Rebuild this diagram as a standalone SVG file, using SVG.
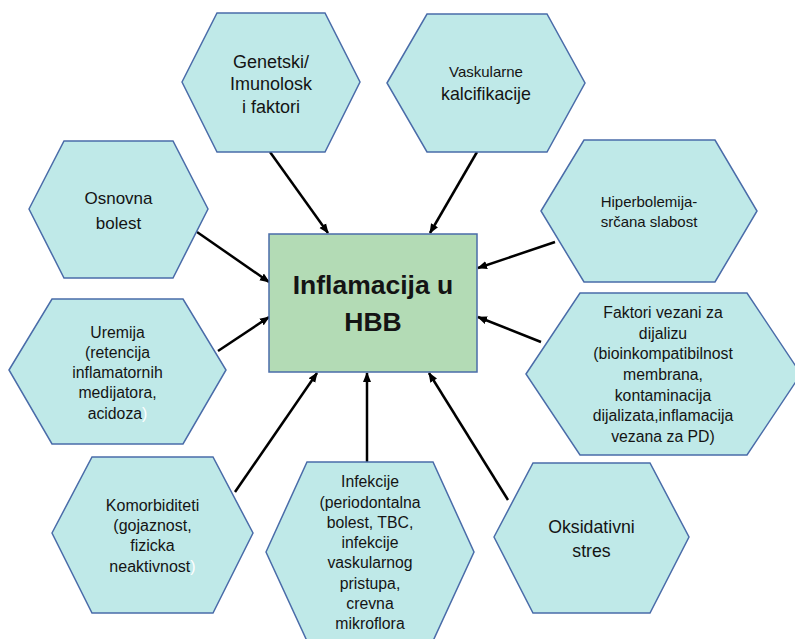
<svg xmlns="http://www.w3.org/2000/svg" width="795" height="639" viewBox="0 0 795 639">
<style>
.hex{fill:#bfe9e8;stroke:#4a6ca9;stroke-width:1.5}
.box{fill:#b3dbb5;stroke:#4a6ca9;stroke-width:1.5}
.t{font-family:"Liberation Sans",Arial,sans-serif;fill:#141414;text-anchor:middle}
.c{stroke:#000;stroke-width:2.5;fill:none;marker-end:url(#ah)}
</style>
<defs>
<marker id="ah" markerUnits="userSpaceOnUse" markerWidth="10" markerHeight="9" refX="9" refY="4" orient="auto" viewBox="0 0 10 8">
<path d="M0,0 L10,4 L0,8 z" fill="#000"/>
</marker>
</defs>
<rect width="795" height="639" fill="#fff"/>
<g id="connectors">
<line class="c" x1="270" y1="152" x2="328" y2="233"/>
<line class="c" x1="477" y1="152" x2="430" y2="233"/>
<line class="c" x1="197" y1="232" x2="269" y2="282"/>
<line class="c" x1="218" y1="351" x2="269" y2="317"/>
<line class="c" x1="555" y1="242" x2="478" y2="268"/>
<line class="c" x1="541" y1="342" x2="478" y2="317"/>
<line class="c" x1="235" y1="492" x2="317" y2="373"/>
<line class="c" x1="367" y1="462" x2="367" y2="373"/>
<line class="c" x1="508" y1="500" x2="429" y2="373"/>
</g>
<g id="center">
<rect class="box" x="269" y="234" width="208" height="138"/>
<text class="t" x="373" y="294" font-size="26.5" font-weight="bold">Inflamacija u</text>
<text class="t" x="373" y="331" font-size="26.5" font-weight="bold">HBB</text>
</g>
<g id="genetski">
<polygon class="hex" points="182,82 217,13 325,13 360,82 325,152 217,152"/>
<text class="t" font-size="18"><tspan x="271" y="67.5">Genetski/</tspan><tspan x="271" y="89.5">Imunolosk</tspan><tspan x="271" y="113">i faktori</tspan></text>
</g>
<g id="vaskularne">
<polygon class="hex" points="387,83 427,14 547,14 585,83 547,152 427,152"/>
<text class="t"><tspan x="486" y="77" font-size="15">Vaskularne</tspan><tspan x="486" y="100" font-size="17.8">kalcifikacije</tspan></text>
</g>
<g id="osnovna">
<polygon class="hex" points="29,209 64,141 173,141 208,209 173,278 64,278"/>
<text class="t" font-size="17"><tspan x="118.5" y="204">Osnovna</tspan><tspan x="118.5" y="229">bolest</tspan></text>
</g>
<g id="uremija">
<polygon class="hex" points="9,370 52,299 183,299 226,370 183,444 52,444"/>
<text class="t" font-size="15.8"><tspan x="117.5" y="337.5">Uremija</tspan><tspan x="117.5" y="357.7">(retencija</tspan><tspan x="117.5" y="378">inflamatornih</tspan><tspan x="117.5" y="398.2">medijatora,</tspan><tspan x="117.5" y="418.5">acidoza<tspan fill="#ffffff">)</tspan></tspan></text>
</g>
<g id="hiperbolemija">
<polygon class="hex" points="541,211 584,140 715,140 757,211 715,282 584,282"/>
<text class="t" font-size="15"><tspan x="649" y="206.5">Hiperbolemija-</tspan><tspan x="649" y="226.5">srčana slabost</tspan></text>
</g>
<g id="faktori">
<polygon class="hex" points="526,374 580,293 747,293 801,374 747,455 580,455"/>
<text class="t" font-size="15.8"><tspan x="663" y="318.3">Faktori vezani za</tspan><tspan x="663" y="338.9">dijalizu</tspan><tspan x="663" y="359.4">(bioinkompatibilnost</tspan><tspan x="663" y="380">membrana,</tspan><tspan x="663" y="400.6">kontaminacija</tspan><tspan x="663" y="421.1">dijalizata,inflamacija</tspan><tspan x="663" y="441.7">vezana za PD)</tspan></text>
</g>
<g id="komorbiditeti">
<polygon class="hex" points="52,533 92,457 213,457 253,533 213,613 92,613"/>
<text class="t" font-size="16"><tspan x="152.5" y="510.7">Komorbiditeti</tspan><tspan x="152.5" y="531">(gojaznost,</tspan><tspan x="152.5" y="551.3">fizicka</tspan><tspan x="152.5" y="571.7">neaktivnost<tspan fill="#ffffff">)</tspan></tspan></text>
</g>
<g id="infekcije">
<polygon class="hex" points="266,552 307,462 433,462 474,552 433,641 307,641"/>
<text class="t" font-size="15.8"><tspan x="370" y="487.3">Infekcije</tspan><tspan x="370" y="507.6">(periodontalna</tspan><tspan x="370" y="527.9">bolest, TBC,</tspan><tspan x="370" y="548.1">infekcije</tspan><tspan x="370" y="568.4">vaskularnog</tspan><tspan x="370" y="588.7">pristupa,</tspan><tspan x="370" y="609">crevna</tspan><tspan x="370" y="629.3">mikroflora</tspan></text>
</g>
<g id="oksidativni">
<polygon class="hex" points="494,537 533,463 650,463 689,537 650,613 533,613"/>
<text class="t" font-size="17.7"><tspan x="591.5" y="533.3">Oksidativni</tspan><tspan x="591.5" y="556.7">stres</tspan></text>
</g>
</svg>
